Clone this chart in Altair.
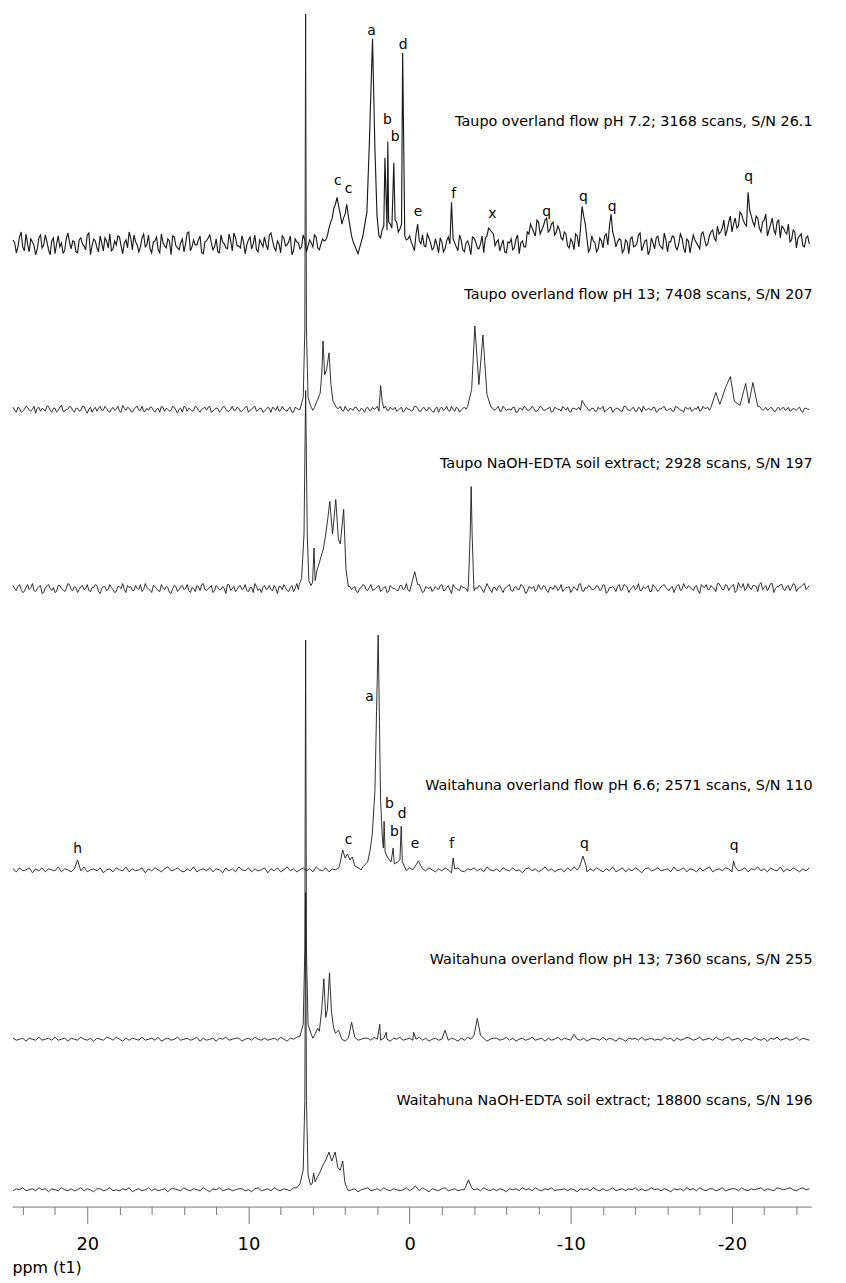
import altair as alt
import pandas as pd

# ---------------- data ----------------
# sampling grid of the noisy baselines (ppm, descending)
GRID_START = 24.6
GRID_STEP = 0.2
GRID_N = 248
MID_START = 24.5
MID_N = 247

trace_names = [
    "Taupo overland flow pH 7.2",
    "Taupo overland flow pH 13",
    "Taupo NaOH-EDTA soil extract",
    "Waitahuna overland flow pH 6.6",
    "Waitahuna overland flow pH 13",
    "Waitahuna NaOH-EDTA soil extract",
]
sample_labels = [
    "Taupo overland flow pH 7.2; 3168 scans, S/N 26.1",
    "Taupo overland flow pH 13; 7408 scans, S/N 207",
    "Taupo NaOH-EDTA soil extract; 2928 scans, S/N 197",
    "Waitahuna overland flow pH 6.6; 2571 scans, S/N 110",
    "Waitahuna overland flow pH 13; 7360 scans, S/N 255",
    "Waitahuna NaOH-EDTA soil extract; 18800 scans, S/N 196",
]
# vertical stacking offset of each spectrum (intensity units)
stack_offsets = [972, 805, 624, 340, 169, 17]
sample_label_height = [123, 115, 126, 85, 80, 90]

# baseline noise read along the grid (intensity units)
t1_base = [
    4, -9, 7, -3, 10, -8, 2, -11, 6, -4,
    9, -6, 3, -10, 8, 1, -7, 11, -5, 2,
    -9, 6, -2, 9, -11, 5, -4, 8, -7, 3,
    10, -5, -1, 7, -10, 4, 12, -6, 2, -8,
    6, -3, 9, -9, 3, -6, 10, -2, 5, -11,
    7, -4, 1, -8, 11, -7, 4, -1, 8, -10,
    3, 9, -6, 5, -9, 2, -4, 10, -7, 6,
    -2, 8, -10, 4, -5, 9, -8, 1, 7, -6,
    11, -4, 3, -9, 6, -1, 8, -7, 2, -5,
    9, -8, 4, -3, 7, -6, 5, 4, 16, 26,
    40, 38, 20, 30, 28, 8, -2, -10, 2, 10,
    30, 60, 90, 60, 6, 18, 14, 20, 12, 22,
    15, 18, 4, 8, -2, 10, 3, 9, -3, 6,
    -6, 5, -9, 2, -5, 7, -10, 1, -7, 4,
    -8, 3, -11, 6, -4, 0, -9, 8, 14, 10,
    2, -7, 4, -9, 1, -6, 5, -10, 3, -3,
    10, 16, 8, 22, 14, 24, 12, 20, 9, 18,
    6, 12, -2, 5, -6, 8, 14, 28, 6, -5,
    3, -8, 6, -4, 10, 18, 12, -3, 5, -9,
    4, -10, 7, -2, 9, -7, 3, -11, 6, -5,
    8, -3, 11, -8, 2, 7, -6, 10, -4, 5,
    -9, 9, 1, -5, 12, -2, 8, 14, 3, 10,
    16, 8, 22, 12, 26, 18, 30, 20, 14, 28,
    18, 26, 12, 24, 8, 20, 14, 22, 6, 16,
    10, 2, 14, -4, 8, -2, 6, 0,
]
# values read half-way between the grid points (denser noise traces)
t1_mid = [
    1, -3, 12, -7, 0, 5, -2, -5, 9, -1,
    2, -11, 6, 0, -3, -9, 5, 2, 3, -8,
    4, 0, -6, 11, -2, 3, -8, 1, 6, -4,
    -7, 3, 8, -2, 1, -4, 6, 9, -1, -3,
    10, -1, -5, 2, 7, -9, 1, -4, 3, 8,
    -2, -6, 5, 0, 12, -3, -1, 4, -9, 2,
    6, 1, -3, -8, 9, 0, -5, 3, 11, -2,
    -4, 2, -1, 7, 0, -6, 4, -3, -1, 9,
    3, -7, 0, 8, -2, 2, -11, 5, 1, -3,
    4, -2, 1, 9, -4, 0, 3, 8, 22, 36,
    47, 30, 26, 40, 18, 2, -6, -4, 20, 50,
    90, 150, 70, 10, 14, 60, 22, 16, 24, 12,
    20, 8, 5, 2, -7, 4, 0, -2, 10, 1,
    -4, -1, 6, -8, 3, 0, 5, -3, 9, -6,
    1, -2, 7, 2, -5, 8, 6, 16, 12, -2,
    4, -1, -8, 2, 5, -4, 9, 1, -3, 12,
    20, 12, 24, 10, 18, 26, 14, 22, 12, 14,
    4, 10, -4, 2, 10, -3, 30, 20, -8, 8,
    1, -5, 3, 8, -1, 20, 6, 2, 4, -6,
    2, 5, -3, 0, 11, -2, 4, -7, 1, 6,
    -1, -5, 4, 2, 8, -3, 0, 6, -9, 3,
    1, 4, -2, 10, 5, 0, 12, 6, 18, 12,
    24, 14, 28, 20, 16, 32, 24, 18, 34, 22,
    28, 16, 22, 30, 14, 26, 10, 24, 18, 12,
    20, 4, 12, 6, 10, -3, 8,
]
t2_base = [
    2, -3, 1, -2, 3, -1, 0, -4, 2, 1,
    -2, 3, -3, 1, -1, 4, -2, 0, 2, -3,
    1, -1, 3, -4, 2, 0, -2, 3, -1, 1,
    -3, 2, 0, -2, 4, -1, 1, -3, 2, -1,
    3, -2, -1, 2, -3, 1, 3, -2, 0, -1,
    2, -4, 1, 3, -2, 0, -1, 2, -3, 1,
    -1, 3, -2, 1, -3, 2, 0, -2, 3, -1,
    1, -2, 2, -3, 0, 3, -1, 1, -2, 2,
    -3, 1, 3, -1, 0, -2, 2, -3, 1, 0,
    3, -2, 1, -1, 2, -3, 0, 2, -1, 1,
    -2, 1, -1, 3, -2, 0, 2, -1, 1, -3,
    2, -1, 0, 3, -2, 1, -1, 2, 0, -2,
    1, -3, 2, 0, -1, 3, -2, 1, -1, 2,
    -2, 1, -3, 2, 0, -1, 3, -2, 1, -1,
    2, 0, -2, 1, -3, 2, -1, 3, -2, 0,
    1, -2, 3, -1, 0, 2, -3, 1, -1, 2,
    -1, 3, -2, 0, 2, -1, 1, -3, 2, 0,
    -2, 1, 2, -3, 1, 0, -1, 6, 2, -1,
    1, -2, 0, 3, -1, 2, -3, 1, 0, -2,
    3, -1, 1, -2, 2, -3, 0, 1, -1, 2,
    -2, 0, 3, -1, 1, -2, 2, -1, -3, 1,
    2, -1, 0, -2, 3, 1, -1, 2, 0, 3,
    1, -1, 2, 0, -2, 3, -1, 1, 4, -1,
    2, -3, 1, 0, -1, 2, -2, 1, -1, 2,
    0, -2, 1, -1, 2, -3, 1, 0,
]
t2_mid = [
    -1, 2, -3, 0, 2, -2, 3, 1, -2, 0,
    3, -1, 1, -3, 2, -2, 0, 3, -1, 1,
    -2, 3, -1, 0, -3, 2, 1, -1, 3, -2,
    0, -1, 3, -3, 1, 2, -2, 0, 3, -1,
    -2, 1, 2, -1, 0, -3, 2, 1, -2, 3,
    -1, 0, -3, 2, 1, -2, 3, -1, 0, 2,
    2, -3, 0, 1, -1, 3, -2, 0, -1, 2,
    -2, 0, 3, -1, 2, -2, 1, -3, 0, 1,
    2, -1, -2, 3, -1, 1, -3, 2, 0, -2,
    1, 0, 2, -2, 1, 3, -1, 2, 0, -1,
    1, 3, -2, 0, 1, -1, 2, -2, 0, 1,
    -1, 2, 1, -2, 8, 3, -1, 0, 2, -1,
    2, -1, 0, -2, 3, 1, -2, 2, -1, 0,
    -3, 2, 1, -1, 3, -2, 0, 2, -3, 1,
    0, 2, -1, 3, 1, 0, -2, 1, 2, -1,
    3, -2, 1, 0, -1, 2, -3, 1, 3, -1,
    0, 1, -2, 3, -1, 0, 2, -2, 1, 0,
    3, -1, -2, 1, 0, 2, 5, 3, -1, 1,
    -2, 2, 1, -3, 0, 2, -1, 1, -2, 3,
    0, -1, 2, -2, 1, 3, -1, 0, 2, -3,
    1, 2, -1, 0, -2, 3, 1, -1, 2, 0,
    -2, 1, 3, -1, 1, 2, 0, 2, 5, 3,
    4, 2, 5, 3, 1, 2, 4, 2, 3, 1,
    1, 3, -1, 2, 0, 1, -2, 2, 1, -1,
    2, -1, 0, 1, -2, 1, 0,
]
t3_base = [
    3, -2, 4, -4, 1, -1, 5, -3, 2, -5,
    1, 4, -2, -4, 3, 0, -3, 5, -1, 2,
    -4, 2, -1, 4, -3, 1, 3, -5, 2, -2,
    4, -1, -3, 2, 5, -4, 1, -2, 3, -1,
    -3, 5, 0, -4, 2, -2, 4, -1, 1, -5,
    3, -3, 2, -1, 4, -4, 0, 3, -2, 5,
    -2, 1, -4, 3, -1, 2, -5, 4, 0, -3,
    2, -1, 4, -3, 1, 5, -2, -4, 3, 0,
    -1, 3, -5, 2, 4, -2, 1, -3, 5, -1,
    2, -4, 1, 3, -2, 5, -1, 0, 2, -3,
    4, -2, 1, -3, 3, -1, 2, -4, 1, 3,
    -2, 4, -1, 2, -3, 1, -4, 3, 0, -2,
    3, -1, 5, -3, 1, -2, 4, -4, 2, 0,
    -3, 2, -1, 4, -2, 3, -5, 1, -1, 3,
    1, -3, 4, -2, 0, 2, -4, 5, -1, 1,
    -2, 3, -4, 1, 4, -3, 2, -1, 3, -5,
    2, 0, -3, 4, -1, 2, -4, 1, 3, -2,
    4, -1, 1, -4, 2, -2, 5, -3, 0, 2,
    -1, 3, -2, 4, -5, 1, 2, -3, 4, -1,
    3, -4, 1, -1, 5, -2, 0, 3, -3, 2,
    -3, 2, 4, -1, 1, -4, 3, -2, 5, 0,
    1, -2, 3, -5, 2, 4, -1, 1, -3, 5,
    -1, 4, -2, 3, -4, 6, 1, -2, 5, -1,
    3, -3, 6, 1, -2, 5, -4, 2, 4, -1,
    2, -2, 5, -3, 1, 4, -1, 3,
]
t3_mid = [
    0, 2, -1, -3, 4, 1, -2, 0, 3, -4,
    2, 0, 1, -3, 3, -1, 0, 4, -2, 1,
    -1, 3, 0, -2, 1, 4, -3, 0, 2, -1,
    1, -4, 2, 0, -1, 3, 2, -2, 0, 4,
    -1, 1, -2, 3, 0, -3, 1, 2, -4, 0,
    2, -1, 3, 0, -2, 1, -3, 2, 4, -1,
    0, 3, -2, 1, -1, 0, 4, -2, 2, -1,
    3, 0, -2, 1, -4, 2, 0, 1, -1, 3,
    -2, 0, 2, -1, 1, -3, 3, 0, -1, 4,
    0, -2, 1, 3, -1, 0, 2, -3, 1, 2,
    -1, 3, 0, -2, 2, 1, -3, 0, 4, -1,
    1, -2, 0, 3, -1, 2, -3, 1, 0, -2,
    3, 0, -1, 2, -2, 4, 0, -3, 1, 2,
    -1, 0, 3, -2, 1, -1, 4, 0, -2, 1,
    0, 2, -3, 1, 3, -1, 0, 2, -4, 1,
    2, -1, 0, 3, -2, 1, -1, 4, 0, -3,
    1, 2, -1, 0, 3, -2, 1, -1, 2, 0,
    -3, 1, 2, -1, 0, 4, -2, 1, 3, -1,
    0, 2, -1, 3, -3, 1, 0, 2, -2, 4,
    1, -1, 3, 0, -2, 2, 1, -3, 4, 0,
    -1, 3, 1, -2, 2, 0, 4, -1, 1, 3,
    0, 2, -2, 4, 1, -1, 3, 0, 5, 2,
    -1, 3, 1, 4, -2, 2, 5, 0, 1, 3,
    2, 4, -1, 3, 1, 5, 0, 2, 4, -2,
    3, 1, 4, 0, 2, 5, 1,
]
t4_base = [
    1, -2, 2, -1, 0, 2, -3, 1, -1, 2,
    -2, 1, 0, -1, 3, -2, 1, 0, -2, 1,
    2, -1, 3, -2, 0, 1, -1, 2, -3, 0,
    1, -2, 2, 0, -1, 3, -2, 1, -1, 0,
    2, -3, 1, -1, 2, 0, -2, 1, 3, -1,
    0, 2, -1, -2, 1, -1, 3, -2, 0, 1,
    -1, 2, -2, 1, 0, -3, 2, -1, 1, -2,
    3, 0, -1, 2, -2, 1, -1, 0, 2, -3,
    1, -1, 2, -2, 0, 3, -1, 1, -2, 0,
    2, -1, 1, -2, 3, 0, -1, 2, -2, 1,
    0, 2, -1, 3, -2, 1, -1, 2, 0, 1,
    -1, 2, 3, 5, 8, 12, 7, 4, 6, 2,
    3, 1, -1, 2, 0, 3, -2, 1, -1, 2,
    0, -2, 1, -1, 2, 0, -3, 1, 2, -1,
    -2, 1, 0, 2, -1, 1, -2, 3, 0, -1,
    1, -2, 2, 0, -1, 2, -1, 0, -3, 1,
    2, -1, 1, -2, 0, 3, -1, 1, -2, 0,
    1, -2, 2, -1, 3, 0, -1, 2, -2, 1,
    -1, 2, 0, -2, 1, -1, 3, -2, 0, 2,
    -2, 1, -1, 2, 0, -3, 1, 2, -1, 0,
    2, -1, 0, 1, -2, 3, -1, 0, 2, -2,
    1, 0, -2, 2, -1, 1, 3, -2, 0, 1,
    -1, 2, 1, -2, 3, -1, 0, 2, -2, 1,
    0, 3, -1, 1, -2, 2, 0, -1, 3, -2,
    1, -1, 2, 0, -2, 1, -1, 2,
]
t5_base = [
    1, -1, 0, 1, -2, 1, 0, -1, 2, -1,
    0, 1, -1, 2, -1, 0, 1, -2, 1, 0,
    -1, 2, 0, -1, 1, -2, 1, 0, -1, 2,
    1, -1, 2, 0, -2, 1, -1, 1, 0, -1,
    2, -1, 0, 1, -1, 2, -2, 0, 1, -1,
    0, 2, -1, 0, 1, -1, 0, 2, -2, 1,
    -1, 0, 1, -2, 1, 0, 2, -1, 0, 1,
    1, -2, 0, 1, -1, 2, 0, -1, 1, -1,
    0, 1, -1, 2, 0, -2, 1, 0, 2, -1,
    1, 0, -1, 1, -2, 0, 1, -1, 0, 2,
    -1, 1, 0, -2, 1, 0, 2, -1, 0, 1,
    1, -1, 2, 0, -1, 1, 0, -2, 1, 0,
    2, -1, 0, 1, -1, 0, 2, -1, 1, -2,
    0, 1, -1, 0, 2, -1, 1, 0, -2, 1,
    -1, 2, 0, 1, -1, 0, 1, -2, 0, 1,
    1, -1, 0, 2, -1, 1, -2, 0, 1, -1,
    0, 2, -1, 0, 1, -2, 1, -1, 0, 2,
    -1, 1, 0, -1, 2, 0, -1, 1, -2, 0,
    1, 0, -1, 2, -1, 1, 0, -2, 1, 0,
    -2, 1, 0, 1, -1, 2, -1, 0, 1, -1,
    0, -1, 2, 0, 1, -2, 1, -1, 0, 2,
    1, -1, 0, 2, -1, 0, 1, -1, 2, 0,
    -1, 1, 2, -1, 0, 1, -2, 1, 0, -1,
    2, 0, -1, 1, -2, 1, 0, 2, -1, 0,
    1, -1, 0, 2, -1, 1, 0, -1,
]
t6_base = [
    -1, 1, 0, 2, -1, 0, 1, -1, 2, 0,
    1, -2, 1, 0, -1, 2, 0, -1, 1, -1,
    0, 2, -1, 1, 0, -2, 1, 1, -1, 0,
    2, -1, 0, -1, 1, 0, 2, -2, 0, 1,
    -1, 0, 2, -1, 1, -1, 0, 1, -2, 1,
    1, 0, -1, 2, 0, -1, 1, 0, -1, 2,
    0, -2, 1, 0, 2, -1, 0, 1, -1, 0,
    1, 1, -1, 0, -2, 1, 2, -1, 0, 1,
    -1, 2, 0, -1, 1, 0, -1, 2, -2, 0,
    1, -1, 2, 0, -1, 1, 0, -1, 1, 0,
    0, 1, -1, 2, -1, 0, 1, -2, 0, 1,
    2, -1, 0, 1, -1, 2, 0, -1, 1, 0,
    -1, 0, 2, -1, 0, 1, -1, 2, 0, -2,
    1, 0, -1, 1, 2, -1, 0, 1, -1, 0,
    0, 2, -1, 0, 1, -1, 2, 0, -1, 1,
    -1, 1, 0, -2, 1, 0, 1, -1, 2, 0,
    1, -1, 2, 0, -1, 1, 0, 2, -1, 0,
    0, 1, -1, 1, 0, -2, 1, 0, 1, -1,
    2, 0, -1, 1, -1, 0, 2, -1, 0, 1,
    -1, 1, 0, 2, -1, 1, -1, 0, 2, 0,
    1, -1, 1, 0, -2, 1, 0, 1, -1, 2,
    0, 1, -1, 2, 0, -1, 1, 1, -1, 0,
    2, -1, 0, 1, 1, -1, 2, 0, -1, 1,
    0, 1, 2, -1, 1, 0, -1, 2, 1, 0,
    1, 2, 0, -1, 1, 2, 0, 1,
]

# peaks: groups of (ppm, intensity) vertices
t1_peaks = [
    [(4.5, 47)], [(3.9, 40)],
    [(2.9, 8), (2.65, 32), (2.5, 100), (2.3, 207), (2.15, 95), (2.02, 28), (1.9, 8)],
    [(1.53, 87)], [(1.35, 103)], [(0.98, 82)], [(0.43, 193)],
    [(-0.5, 20)], [(-2.6, 42)], [(-10.7, 38)], [(-12.5, 30)], [(-21.0, 52)],
]
t2_peaks = [
    [(6.75, 3), (6.6, 12), (6.5, 80), (6.45, 399), (6.4, 80), (6.3, 12), (6.15, 4)],
    [(5.9, 2), (5.7, 10), (5.55, 16), (5.45, 35), (5.37, 69), (5.27, 35), (5.15, 40),
     (5.0, 57), (4.88, 25), (4.75, 8), (4.55, 2)],
    [(1.8, 24)],
    [(-3.6, 3), (-3.85, 20), (-4.05, 84), (-4.3, 25), (-4.55, 75), (-4.8, 15), (-5.05, 2)],
    [(-10.7, 9)],
    [(-18.7, 2), (-19.0, 17), (-19.25, 5), (-19.6, 22), (-19.9, 33), (-20.15, 8),
     (-20.5, 4), (-20.85, 26), (-21.05, 6), (-21.3, 27), (-21.6, 3)],
]
t3_peaks = [
    [(6.85, 4), (6.7, 10), (6.55, 55), (6.45, 200), (6.35, 55), (6.25, 8), (6.12, 3),
     (6.02, 6), (5.93, 41), (5.86, 8), (5.75, 18), (5.6, 26), (5.5, 32), (5.35, 40),
     (5.2, 55), (5.08, 70), (4.95, 88), (4.78, 55), (4.58, 90), (4.42, 50), (4.3, 45),
     (4.09, 80), (3.95, 20), (3.8, 2)],
    [(-0.1, 3), (-0.32, 17), (-0.5, 4)],
    [(-3.65, 4), (-3.76, 55), (-3.82, 103), (-3.88, 55), (-3.98, 4)],
]
t4_peaks = [
    [(20.6, 10)],
    [(4.35, 4), (4.15, 20), (4.0, 12), (3.85, 16), (3.7, 10), (3.55, 13), (3.4, 4), (3.2, 2)],
    [(2.9, 3), (2.6, 8), (2.45, 20), (2.32, 35), (2.15, 80), (2.05, 160), (1.95, 237),
     (1.87, 150), (1.8, 70), (1.7, 35), (1.63, 22), (1.58, 49), (1.52, 18), (1.35, 12),
     (1.15, 8), (1.02, 22), (0.95, 6), (0.75, 8), (0.6, 10), (0.52, 44), (0.45, 8), (0.3, 3)],
    [(-0.4, 5), (-0.55, 9), (-0.7, 4)],
    [(-2.7, 12)],
    [(-10.55, 3), (-10.75, 14), (-10.95, 4)],
    [(-20.1, 9)],
]
t5_peaks = [
    [(6.8, 3), (6.6, 15), (6.5, 90), (6.45, 403), (6.4, 90), (6.3, 15), (6.1, 5)],
    [(5.9, 4), (5.7, 11), (5.6, 8), (5.45, 30), (5.32, 61), (5.2, 22), (5.1, 30),
     (4.97, 67), (4.85, 28), (4.72, 12), (4.6, 6), (4.4, 9), (4.25, 2)],
    [(3.6, 17)], [(1.85, 15)], [(1.45, 7)], [(-0.25, 7)], [(-2.2, 9)],
    [(-4.0, 4), (-4.2, 21), (-4.4, 4)],
    [(-10.2, 5)],
]
t6_peaks = [
    [(7.0, 2), (6.8, 6), (6.6, 20), (6.5, 90), (6.45, 300), (6.4, 90), (6.3, 15),
     (6.15, 5), (6.05, 6), (5.95, 17), (5.86, 8), (5.75, 12), (5.55, 18), (5.4, 24),
     (5.2, 30), (5.0, 38), (4.83, 29), (4.62, 38), (4.45, 22), (4.3, 20), (4.15, 29),
     (4.02, 8), (3.9, 2)],
    [(-0.2, 1), (-0.35, 4), (-0.5, 1)],
    [(-3.45, 2), (-3.65, 10), (-3.85, 2)],
]

# peak assignment letters
t1_label_text = ["c", "c", "a", "b", "b", "d", "e", "f", "x", "q", "q", "q", "q"]
t1_label_ppm = [4.45, 3.78, 2.37, 1.38, 0.89, 0.40, -0.52, -2.73, -5.13, -8.51, -10.78, -12.56, -21.04]
t1_label_h = [63, 55, 215, 125, 108, 201, 32, 50, 30, 32, 47, 37, 67]
t4_label_text = ["h", "c", "a", "b", "b", "d", "e", "f", "q", "q"]
t4_label_ppm = [20.6, 3.78, 2.49, 1.26, 0.95, 0.46, -0.34, -2.61, -10.85, -20.13]
t4_label_h = [21, 30, 174, 66, 38, 56, 26, 26, 26, 24]

tick_values = [24, 22, 20, 18, 16, 14, 12, 10, 8, 6, 4, 2, 0,
               -2, -4, -6, -8, -10, -12, -14, -16, -18, -20, -22, -24]

# ---------------- build tables ----------------
grid_ppm = [round(GRID_START - GRID_STEP * i, 2) for i in range(GRID_N)]
mid_ppm = [round(MID_START - GRID_STEP * i, 2) for i in range(MID_N)]
bases = [t1_base, t2_base, t3_base, t4_base, t5_base, t6_base]
mids = [t1_mid, t2_mid, t3_mid, None, None, None]
peaks = [t1_peaks, t2_peaks, t3_peaks, t4_peaks, t5_peaks, t6_peaks]


def covered(p, groups):
    for g in groups:
        ps = [q[0] for q in g]
        if len(g) == 1:
            if abs(p - ps[0]) < 0.04:
                return True
        elif min(ps) <= p <= max(ps):
            return True
    return False


rows = []
for k, name in enumerate(trace_names):
    groups = peaks[k]
    raw = list(zip(grid_ppm, bases[k]))
    if mids[k] is not None:
        raw += list(zip(mid_ppm, mids[k]))
    pts = [(p, val) for p, val in raw if not covered(p, groups)]
    for g in groups:
        pts.extend(g)
    pts.sort(key=lambda t: -t[0])
    for j, (p, val) in enumerate(pts):
        rows.append({"trace": name, "ppm": p, "v": stack_offsets[k] + val, "ord": j})
spec = pd.DataFrame(rows)

lab_rows = []
for t, p, h in zip(t1_label_text, t1_label_ppm, t1_label_h):
    lab_rows.append({"txt": t, "ppm": p, "v": stack_offsets[0] + h})
for t, p, h in zip(t4_label_text, t4_label_ppm, t4_label_h):
    lab_rows.append({"txt": t, "ppm": p, "v": stack_offsets[3] + h})
letters = pd.DataFrame(lab_rows)

samples = pd.DataFrame({
    "txt": sample_labels,
    "ppm": [-25.0] * len(sample_labels),
    "v": [o + h for o, h in zip(stack_offsets, sample_label_height)],
})

# ---------------- chart ----------------
FONT = "DejaVu Sans"
xscale = alt.Scale(domain=[24.67, -24.92], nice=False, zero=False)
yscale = alt.Scale(domain=[0, 1204], nice=False, zero=False)

xaxis = alt.Axis(
    values=tick_values,
    labelExpr="datum.value % 10 === 0 ? '' + datum.value : ''",
    tickSize=alt.condition("datum.value % 10 === 0", alt.value(17), alt.value(8)),
    tickColor="#777777",
    tickWidth=1,
    domainColor="#777777",
    domainWidth=1,
    grid=False,
    labelFont=FONT,
    labelFontSize=18,
    labelColor="black",
    labelPadding=12,
    labelFlush=False,
    labelOverlap=False,
    labelBound=False,
    labelSeparation=0,
    title="ppm (t1)",
    titleFont=FONT,
    titleFontSize=16,
    titleFontWeight="normal",
    titleColor="black",
    titleAnchor="start",
    titleAlign="left",
    titleBaseline="middle",
    titleX=0,
    titleY=62,
)

lines = alt.Chart(spec).mark_line(color="#1a1a1a", strokeJoin="miter").encode(
    x=alt.X("ppm:Q", scale=xscale, axis=xaxis),
    y=alt.Y("v:Q", scale=yscale, axis=None),
    detail="trace:N",
    order="ord:Q",
    strokeWidth=alt.condition(
        alt.datum.trace == trace_names[0], alt.value(1.15), alt.value(0.9)
    ),
)

letter_layer = alt.Chart(letters).mark_text(
    font=FONT, fontSize=14, color="black", baseline="middle", align="center"
).encode(
    x=alt.X("ppm:Q", scale=xscale, axis=xaxis),
    y=alt.Y("v:Q", scale=yscale, axis=None),
    text="txt:N",
)

sample_layer = alt.Chart(samples).mark_text(
    font=FONT, fontSize=14.5, color="black", baseline="middle", align="right"
).encode(
    x=alt.X("ppm:Q", scale=xscale, axis=xaxis),
    y=alt.Y("v:Q", scale=yscale, axis=None),
    text="txt:N",
)

chart = alt.layer(lines, letter_layer, sample_layer).properties(
    width=807,
    height=1204,
    padding={"left": 4, "top": 0, "right": 27, "bottom": 71},
    autosize="none",
    background="white",
).configure_view(stroke=None).configure_axis(labelOverlap=False).configure_axisX(labelOverlap=False)

chart.save("out.html", embed_options={"renderer": "svg", "actions": False})
